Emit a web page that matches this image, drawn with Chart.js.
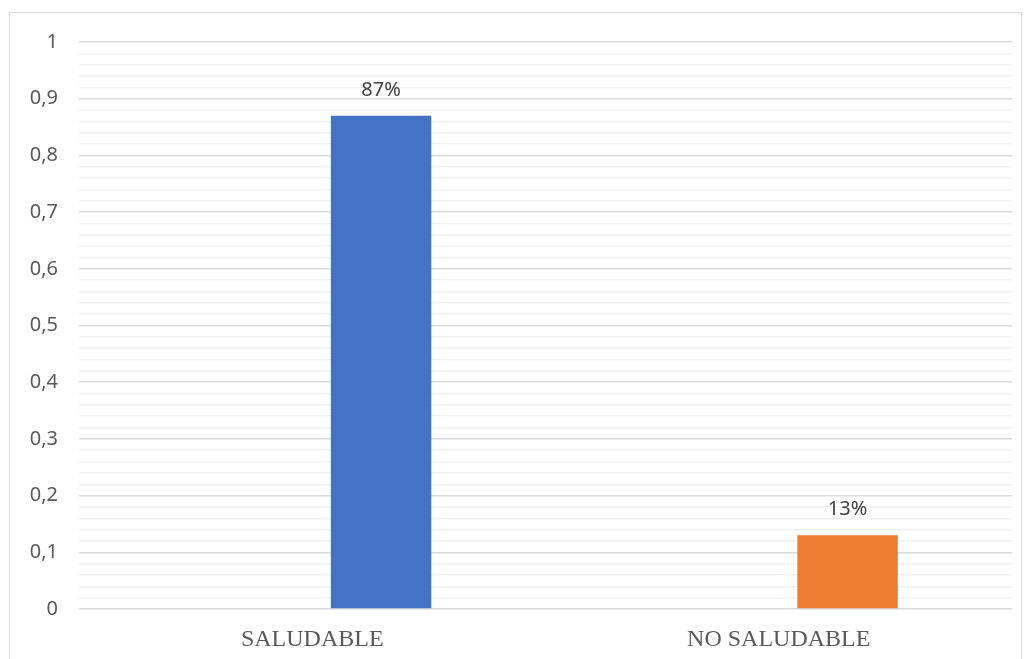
<!DOCTYPE html>
<html>
<head>
<meta charset="utf-8">
<title>Saludable</title>
<script src="https://cdn.jsdelivr.net/npm/chart.js@4/dist/chart.umd.min.js"></script>
<style>
  html, body { margin: 0; padding: 0; background: #ffffff; }
  #wrap { width: 1027px; height: 659px; }
</style>
</head>
<body>
<div id="wrap"><canvas id="chart" width="1027" height="659"></canvas></div>
<script>
  // Chart data
  const categories = ['SALUDABLE', 'NO SALUDABLE'];
  const emptySeries = [null, null];
  const values = [0.87, 0.13];
  const barColors = ['#4472c4', '#ed7d31'];
  const yMin = 0;
  const yMax = 1;
  const yStep = 0.02;

  // Frame around the chart
  const framePlugin = {
    id: 'frame',
    beforeDraw(chart) {
      const ctx = chart.ctx;
      ctx.save();
      ctx.strokeStyle = '#d9d9d9';
      ctx.lineWidth = 1;
      ctx.strokeRect(9.5, 12.5, 1012, 660);
      ctx.restore();
    }
  };

  // Percent labels above bars
  const barLabelPlugin = {
    id: 'barLabels',
    afterDatasetsDraw(chart) {
      const ctx = chart.ctx;
      const meta = chart.getDatasetMeta(1);
      ctx.save();
      ctx.font = '20px "Noto Sans", "Open Sans", sans-serif';
      ctx.fillStyle = '#404040';
      ctx.textAlign = 'center';
      ctx.textBaseline = 'alphabetic';
      meta.data.forEach((bar, i) => {
        const v = values[i];
        if (v == null) return;
        ctx.fillText(Math.round(v * 100) + '%', bar.x, bar.y - 20);
      });
      ctx.restore();
    }
  };

  function isMajor(v) {
    return Math.round(v * 100) % 10 === 0;
  }

  new Chart(document.getElementById('chart'), {
    type: 'bar',
    data: {
      labels: categories,
      datasets: [
        {
          label: 'empty',
          data: emptySeries,
          backgroundColor: 'rgba(0,0,0,0)',
          categoryPercentage: 0.59,
          barPercentage: 0.73
        },
        {
          label: 'valor',
          data: values,
          backgroundColor: barColors,
          borderWidth: 0,
          categoryPercentage: 0.59,
          barPercentage: 0.73
        }
      ]
    },
    options: {
      responsive: false,
      animation: false,
      layout: {
        padding: { top: 42, right: 15, left: 0, bottom: 0 }
      },
      plugins: {
        legend: { display: false },
        tooltip: { enabled: false }
      },
      scales: {
        x: {
          offset: true,
          grid: { display: false },
          border: { display: false },
          ticks: {
            color: '#595959',
            font: { family: '"Liberation Serif", "Times New Roman", serif', size: 24 },
            padding: 8
          },
          afterFit(scale) {
            scale.height = 50;
          }
        },
        y: {
          min: yMin,
          max: yMax,
          border: { display: false },
          grid: {
            drawTicks: false,
            color: ctx => isMajor(ctx.tick.value) ? '#d9d9d9' : '#f0f0f0',
            lineWidth: 1.5
          },
          ticks: {
            stepSize: yStep,
            autoSkip: false,
            padding: 21,
            color: '#595959',
            font: { family: '"Noto Sans", "Open Sans", sans-serif', size: 20 },
            callback: v => isMajor(v) ? String(Math.round(v * 10) / 10).replace('.', ',') : ''
          },
          afterFit(scale) {
            scale.width = 79;
          }
        }
      }
    },
    plugins: [framePlugin, barLabelPlugin]
  });
</script>
</body>
</html>
